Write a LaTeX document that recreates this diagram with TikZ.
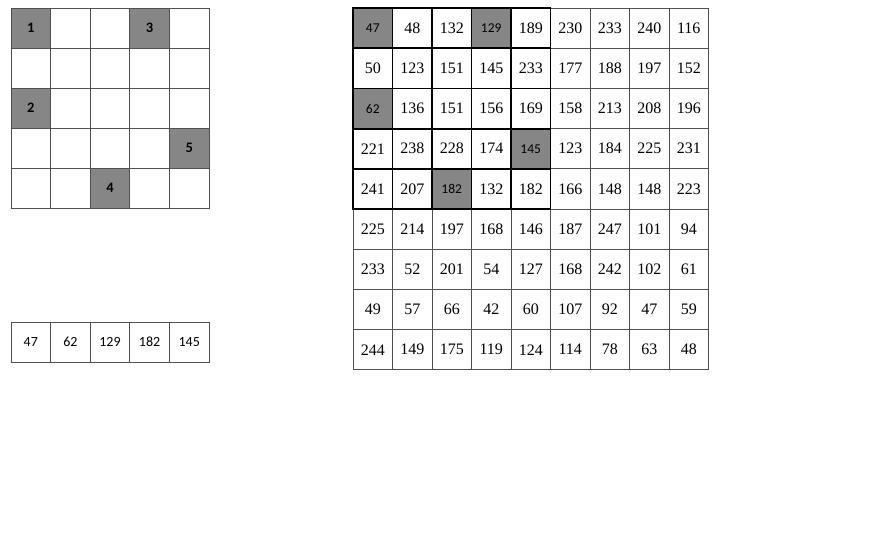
\documentclass[tikz,border=0pt]{standalone}
\usepackage{fontspec}
\setmainfont{Liberation Serif}
\setsansfont{Carlito}
\definecolor{shade}{RGB}{134,134,134}
\definecolor{rule}{RGB}{80,80,80}

\begin{document}
\begin{tikzpicture}[
                x=1pt, y=-1pt,
                box/.style={draw=rule, line width=0.8pt, inner sep=0pt, outer sep=0pt, minimum width=39.6pt, minimum height=40pt},
                markbox/.style={box},
                num/.style={box, minimum width=39.5pt, minimum height=40.2pt, font=\fontsize{16}{18}\selectfont},
                seqbox/.style={box, font=\sffamily\fontsize{14}{16}\selectfont},
                shaded/.style={fill=shade, font=\sffamily\fontsize{13.5}{15}\selectfont},
                hl-1-1/.style={shaded}, hl-1-4/.style={shaded}, hl-3-1/.style={shaded},
                hl-4-5/.style={shaded}, hl-5-3/.style={shaded},
                frame/.style={draw=black, line width=1.8pt},
            ]
            \useasboundingbox (0,0) rectangle (890,550);

            % ----- Left part (pattern) -----
            \foreach \row [count=\r] in {{1,{},{},3,{}},{{},{},{},{},{}},{2,{},{},{},{}},{{},{},{},{},5},{{},{},4,{},{}}}
              \foreach \v [count=\c] in \row
                \node[markbox, hl-\r-\c/.try, font=\sffamily\bfseries\fontsize{14.5}{16}\selectfont] (pat-\r-\c) at ({11+39.6*(\c-0.5)}, {8+40*(\r-0.5)}) {\v};

            % picked values
            \foreach \v [count=\i] in {47,62,129,182,145}
              \node[seqbox] (seq-\i) at ({11+39.6*(\i-0.5)}, 342) {\v};

            % ----- Right part (image) -----
            \foreach \row [count=\r] in {
                {47,48,132,129,189,230,233,240,116},
                {50,123,151,145,233,177,188,197,152},
                {62,136,151,156,169,158,213,208,196},
                {221,238,228,174,145,123,184,225,231},
                {241,207,182,132,182,166,148,148,223},
                {225,214,197,168,146,187,247,101,94},
                {233,52,201,54,127,168,242,102,61},
                {49,57,66,42,60,107,92,47,59},
                {244,149,175,119,124,114,78,63,48}}
              \foreach \v [count=\c] in \row
                \node[num, hl-\r-\c/.try] (cell-\r-\c) at ({353+39.5*(\c-0.5)}, {8+40.2*(\r-0.5)}) {\v};

            % window borders
            \foreach \r in {1,...,5}
              \foreach \c in {1,...,5}
                \draw[frame] (cell-\r-\c.north west) rectangle (cell-\r-\c.south east);

            \end{tikzpicture}
\end{document}
